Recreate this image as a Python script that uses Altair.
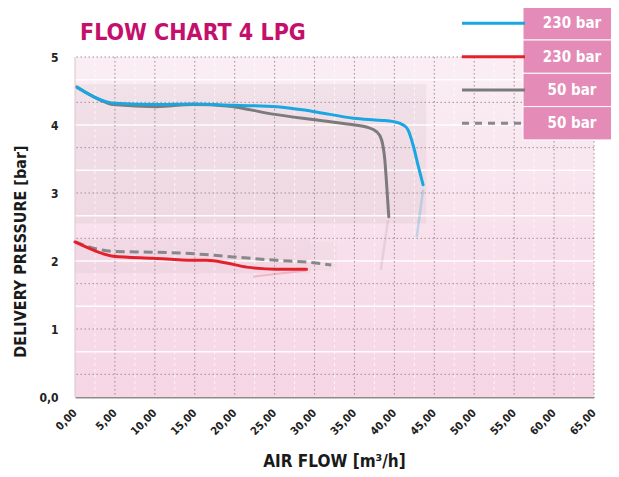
import altair as alt
import pandas as pd

# ---- data ----
blue_x = [0.3, 4.0, 5.0, 10.2, 14.8, 19.8, 25.3, 29.8, 34.9, 38.2, 39.9, 41.1, 41.7, 42.4, 43.0, 43.6]
blue_y = [4.55, 4.34, 4.32, 4.30, 4.31, 4.29, 4.27, 4.20, 4.10, 4.07, 4.05, 4.00, 3.93, 3.68, 3.39, 3.12]
gray_x = [0.25, 3.1, 4.8, 10.2, 14.8, 19.0, 24.8, 29.8, 34.4, 36.5, 37.8, 38.4, 38.8, 39.1, 39.3]
gray_y = [4.56, 4.37, 4.30, 4.27, 4.30, 4.28, 4.16, 4.08, 4.01, 3.97, 3.90, 3.78, 3.49, 3.00, 2.65]
red_x = [0.0, 2.3, 4.8, 9.8, 14.8, 16.5, 19.0, 21.5, 25.3, 29.0]
red_y = [2.28, 2.16, 2.07, 2.04, 2.01, 2.01, 1.97, 1.91, 1.88, 1.88]
dash_x = [0.0, 2.3, 4.8, 9.8, 15.7, 19.8, 25.3, 29.4, 32.1]
dash_y = [2.28, 2.19, 2.14, 2.13, 2.10, 2.06, 2.01, 1.98, 1.94]

# faint "reflection" strokes under the curve ends
refl_blue_x = [42.8, 43.6]
refl_blue_y = [2.35, 3.05]
refl_gray_x = [38.3, 39.2]
refl_gray_y = [1.87, 2.60]
refl_red_x = [22.3, 29.0]
refl_red_y = [1.77, 1.86]

legend_labels = ["230 bar", "230 bar", "50 bar", "50 bar"]
legend_colors = ["#19a6e1", "#e3202b", "#7b7b7b", "#888888"]
legend_dashed = [False, False, False, True]

x_ticks = list(range(0, 70, 5))
y_ticks = [0, 1, 2, 3, 4, 5]

FONT = "DejaVu Sans Condensed, Liberation Sans Narrow, sans-serif"

X = alt.X("x:Q", scale=alt.Scale(domain=[0, 65], nice=False, zero=False),
          axis=alt.Axis(values=x_ticks, title="AIR FLOW [m³/h]", grid=False, ticks=False,
                        domain=True, domainColor="#8c8c8c", domainWidth=2,
                        labelAngle=315, labelAlign="right", labelBaseline="middle",
                        labelPadding=14, labelFont=FONT, labelFontSize=11,
                        labelFontWeight="bold", labelColor="#222222", labelOverlap=False,
                        labelExpr="replace(format(datum.value, '.2f'), '.', ',')",
                        titleFont=FONT, titleFontSize=17, titleFontWeight="bold",
                        titleColor="#1a1a1a", titleX=259, titleY=69,
                        titleBaseline="alphabetic", titleAlign="center"))
Y = alt.Y("y:Q", scale=alt.Scale(domain=[0, 5], nice=False, zero=False),
          axis=alt.Axis(values=y_ticks, title="DELIVERY PRESSURE [bar]", grid=False,
                        ticks=False, domain=False, labelPadding=17, labelFont=FONT,
                        labelFontSize=12, labelFontWeight="bold", labelColor="#222222",
                        labelOverlap=False,
                        labelExpr="datum.value == 0 ? '0,0' : format(datum.value, 'd')",
                        titleFont=FONT, titleFontSize=16, titleFontWeight="bold",
                        titleColor="#1a1a1a", titleAngle=270, titleX=-55, titleY=194,
                        titleAlign="center", titleBaseline="middle"))


def frame(xs, ys):
    return pd.DataFrame({"x": xs, "y": ys})


# background panel spanning the full axis ranges
bg_df = pd.DataFrame({"x": [x_ticks[0]], "x2": [x_ticks[-1]], "y": [y_ticks[0]], "y2": [y_ticks[-1]]})
bg = alt.Chart(bg_df).mark_rect(
    color=alt.Gradient(gradient="linear",
                       stops=[alt.GradientStop(color="#faeef4", offset=0),
                              alt.GradientStop(color="#f6d5e4", offset=1)],
                       x1=0, x2=0, y1=0, y2=1)
).encode(x=X, x2="x2:Q", y=Y, y2="y2:Q")

# soft shadow panels behind curves
shadow_df = pd.DataFrame({"x": [0, 0, 29.5], "x2": [44.0, 29.5, 32.8],
                          "y": [2.55, 1.82, 1.86], "y2": [4.6, 2.32, 2.28],
                          "o": [0.08, 0.06, 0.035]})
shadows = alt.Chart(shadow_df).mark_rect(color="#8a6a78").encode(
    x=X, x2="x2:Q", y=Y, y2="y2:Q", opacity=alt.Opacity("o:Q", scale=None, legend=None))

# grid
dotted_h = alt.Chart(pd.DataFrame({"y": [k / 3 for k in range(1, 16, 2)]})).mark_rule(
    color="#a08c98", strokeDash=[1.5, 2.5], strokeWidth=1).encode(y=Y)
white_h = alt.Chart(pd.DataFrame({"y": [k / 3 for k in range(2, 15, 2)]})).mark_rule(
    color="#ffffff", strokeWidth=1.5, opacity=0.9).encode(y=Y)
dotted_v = alt.Chart(pd.DataFrame({"x": x_ticks[1:]})).mark_rule(
    color="#a08c98", strokeDash=[1.5, 2.5], strokeWidth=1).encode(x=X)
white_v = alt.Chart(pd.DataFrame({"x": [t + 2.5 for t in x_ticks[:-1]]})).mark_rule(
    color="#ffffff", strokeDash=[3, 3], strokeWidth=1, opacity=0.7).encode(x=X)
left_edge = alt.Chart(pd.DataFrame({"x": [0]})).mark_rule(
    color="#d9c4ce", strokeWidth=1).encode(x=X)

# reflections
refl = (alt.Chart(frame(refl_blue_x, refl_blue_y)).mark_line(color="#19a6e1", strokeWidth=2.5, opacity=0.25).encode(x=X, y=Y)
        + alt.Chart(frame(refl_gray_x, refl_gray_y)).mark_line(color="#7b7b7b", strokeWidth=2.5, opacity=0.15).encode(x=X, y=Y)
        + alt.Chart(frame(refl_red_x, refl_red_y)).mark_line(color="#e3202b", strokeWidth=2, opacity=0.2).encode(x=X, y=Y))

# curves
gray_line = alt.Chart(frame(gray_x, gray_y)).mark_line(
    color="#7b7b7b", strokeWidth=3, interpolate="monotone", strokeCap="round").encode(x=X, y=Y)
blue_line = alt.Chart(frame(blue_x, blue_y)).mark_line(
    color="#19a6e1", strokeWidth=3, interpolate="monotone", strokeCap="round").encode(x=X, y=Y)
dash_line = alt.Chart(frame(dash_x, dash_y)).mark_line(
    color="#888888", strokeWidth=3, strokeDash=[9, 5], interpolate="monotone").encode(x=X, y=Y)
red_line = alt.Chart(frame(red_x, red_y)).mark_line(
    color="#e3202b", strokeWidth=3, interpolate="monotone", strokeCap="round").encode(x=X, y=Y)

# legend (drawn in pixel space above the plot's top-right corner)
one = pd.DataFrame({"a": [0]})
legend_layers = []
row_h = 33.3
top = -50.3
for i, (lab, col, dashed) in enumerate(zip(legend_labels, legend_colors, legend_dashed)):
    y0 = top + i * row_h
    yc = y0 + row_h / 2
    legend_layers.append(alt.Chart(one).mark_rect(color="#e48bb8", stroke="#ffffff", strokeWidth=1).encode(
        x=alt.value(448), x2=alt.value(545), y=alt.value(y0), y2=alt.value(y0 + row_h)))
    legend_layers.append(alt.Chart(one).mark_text(
        text=lab, color="#ffffff", font=FONT, fontSize=15, fontWeight="bold",
        align="center", baseline="middle").encode(x=alt.value(497), y=alt.value(yc)))
    kw = {"strokeDash": [7, 6]} if dashed else {}
    legend_layers.append(alt.Chart(one).mark_rule(color=col, strokeWidth=3, **kw).encode(
        x=alt.value(387), x2=alt.value(450), y=alt.value(yc)))

title = alt.Chart(one).mark_text(
    text="FLOW CHART 4 LPG", color="#c4106c", font=FONT, fontSize=23, fontWeight="bold",
    align="left", baseline="alphabetic").encode(x=alt.value(5), y=alt.value(-17))

chart = alt.layer(
    bg, shadows, white_h, white_v, dotted_h, dotted_v, left_edge,
    refl, gray_line, blue_line, dash_line, red_line,
    *legend_layers, title
).properties(
    width=519, height=340,
    padding={"left": 67, "top": 49, "right": 17, "bottom": 72},
    autosize=alt.AutoSizeParams(type="none"),
    background="#ffffff"
).configure_view(stroke=None)

chart.save("out.html", embed_options={"renderer": "svg", "actions": False})
